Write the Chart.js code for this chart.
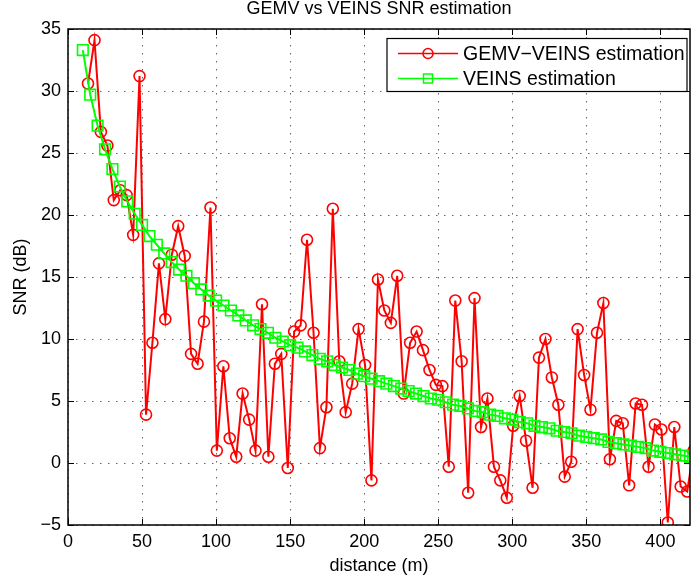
<!DOCTYPE html>
<html>
<head>
<meta charset="utf-8">
<script src="https://cdn.jsdelivr.net/npm/chart.js@4.4.1/dist/chart.umd.min.js"></script>
<style>
  html, body { margin: 0; padding: 0; background: #fff; }
  #wrap { width: 693px; height: 581px; }
</style>
</head>
<body>
<div id="wrap"><canvas id="snrChart" width="693" height="581"></canvas></div>
<script>
// distances (m) of the GEMV-VEINS samples (last one falls past the axis)
var gemvDist = [
  13.5, 17.9, 22.2, 26.6, 30.9, 35.3, 39.6, 44.0, 48.3, 52.7,
  57.0, 61.4, 65.7, 70.1, 74.4, 78.8, 83.1, 87.5, 91.8, 96.2,
  100.5, 104.9, 109.2, 113.6, 117.9, 122.3, 126.6, 131.0, 135.3, 139.7,
  144.0, 148.4, 152.7, 157.1, 161.4, 165.8, 170.1, 174.5, 178.8, 183.2,
  187.5, 191.9, 196.2, 200.6, 204.9, 209.3, 213.6, 218.0, 222.3, 226.7,
  231.0, 235.4, 239.7, 244.1, 248.4, 252.8, 257.1, 261.5, 265.8, 270.2,
  274.5, 278.9, 283.2, 287.6, 291.9, 296.3, 300.6, 305.0, 309.3, 313.7,
  318.0, 322.4, 326.7, 331.1, 335.4, 339.8, 344.1, 348.5, 352.8, 357.2,
  361.5, 365.9, 370.2, 374.6, 378.9, 383.3, 387.6, 392.0, 396.3, 400.7,
  405.0, 409.4, 413.7, 418.1, 422.4
];
var gemvSnr = [
  30.6, 34.1, 26.7, 25.6, 21.2, 22.0, 21.6, 18.4, 31.2, 3.9,
  9.7, 16.1, 11.6, 16.8, 19.1, 16.7, 8.8, 8.0, 11.4, 20.6,
  1.0, 7.8, 2.0, 0.5, 5.6, 3.5, 1.0, 12.8, 0.5, 8.0,
  8.8, -0.4, 10.6, 11.1, 18.0, 10.5, 1.2, 4.5, 20.5, 8.2,
  4.1, 6.4, 10.8, 7.9, -1.4, 14.8, 12.3, 11.3, 15.1, 5.6,
  9.7, 10.6, 9.1, 7.5, 6.3, 6.2, -0.3, 13.1, 8.2, -2.4,
  13.3, 2.9, 5.2, -0.3, -1.4, -2.8, 3.0, 5.4, 1.8, -2.0,
  8.5, 10.0, 6.9, 4.7, -1.1, 0.1, 10.8, 7.1, 4.3, 10.5,
  12.9, 0.3, 3.4, 3.2, -1.8, 4.8, 4.7, -0.3, 3.1, 2.7,
  -4.8, 2.9, -1.9, -2.3, 1.0
];

// VEINS estimation curve
var veinsDist = [
  10, 15, 20, 25, 30, 35, 40, 45, 50, 55, 60, 65, 70, 75, 80, 85, 90, 95,
  100, 105, 110, 115, 120, 125, 130, 135, 140, 145, 150, 155, 160, 165, 170, 175,
  180, 185, 190, 195, 200, 205, 210, 215, 220, 225, 230, 235, 240, 245, 250, 255,
  260, 265, 270, 275, 280, 285, 290, 295, 300, 305, 310, 315, 320, 325, 330, 335,
  340, 345, 350, 355, 360, 365, 370, 375, 380, 385, 390, 395, 400, 405, 410, 415, 420
];
var veinsSnr = [
  33.3, 29.7, 27.2, 25.3, 23.7, 22.3, 21.1, 20.1, 19.2, 18.3, 17.6, 16.9, 16.2, 15.6, 15.1, 14.5, 14.0, 13.5,
  13.1, 12.7, 12.3, 11.9, 11.5, 11.1, 10.8, 10.5, 10.1, 9.8, 9.5, 9.3, 9.0, 8.7, 8.4, 8.2,
  7.9, 7.7, 7.5, 7.2, 7.0, 6.8, 6.6, 6.4, 6.2, 6.0, 5.8, 5.6, 5.4, 5.2, 5.1, 4.9,
  4.7, 4.6, 4.4, 4.2, 4.1, 3.9, 3.8, 3.6, 3.5, 3.3, 3.2, 3.0, 2.9, 2.8, 2.6, 2.5,
  2.4, 2.2, 2.1, 2.0, 1.9, 1.7, 1.6, 1.5, 1.4, 1.3, 1.2, 1.0, 0.9, 0.8, 0.7, 0.6, 0.5
];

var xTicks = [0, 50, 100, 150, 200, 250, 300, 350, 400];
var yTicks = [-5, 0, 5, 10, 15, 20, 25, 30, 35];

var toPoints = function (xs, ys) {
  return xs.map(function (v, i) { return { x: v, y: ys[i] }; });
};

// matlab style box with inward ticks on all four sides
var axesBox = {
  id: "axesBox",
  afterDatasetsDraw: function (chart) {
    var ctx = chart.ctx;
    var a = chart.chartArea;
    var sx = chart.scales.x, sy = chart.scales.y;
    ctx.save();
    ctx.strokeStyle = "#000";
    ctx.lineWidth = 1;
    ctx.beginPath();
    sx.ticks.forEach(function (t) {
      var px = Math.round(sx.getPixelForValue(t.value)) + 0.5;
      ctx.moveTo(px, a.bottom); ctx.lineTo(px, a.bottom - 6);
      ctx.moveTo(px, a.top); ctx.lineTo(px, a.top + 6);
    });
    sy.ticks.forEach(function (t) {
      var py = Math.round(sy.getPixelForValue(t.value)) + 0.5;
      ctx.moveTo(a.left, py); ctx.lineTo(a.left + 6, py);
      ctx.moveTo(a.right, py); ctx.lineTo(a.right - 6, py);
    });
    ctx.stroke();
    ctx.lineWidth = 1.5;
    ctx.strokeRect(a.left, a.top, a.right - a.left, a.bottom - a.top);
    ctx.restore();
  }
};

// legend box in the upper right corner
var legendBox = {
  id: "legendBox",
  afterDraw: function (chart) {
    var ctx = chart.ctx;
    var a = chart.chartArea;
    var w = 300, h = 53;
    var bx = a.right - 3 - w, by = a.top + 9.5;
    ctx.save();
    ctx.fillStyle = "#fff";
    ctx.fillRect(bx, by, w, h);
    ctx.strokeStyle = "#000";
    ctx.lineWidth = 1.2;
    ctx.strokeRect(bx, by, w, h);
    chart.data.datasets.forEach(function (ds, i) {
      var ry = by + 15 + i * 25;
      ctx.strokeStyle = ds.borderColor;
      ctx.lineWidth = 1.5;
      ctx.beginPath();
      ctx.moveTo(bx + 11, ry); ctx.lineTo(bx + 71, ry);
      ctx.stroke();
      ctx.beginPath();
      if (ds.pointStyle === "circle") {
        ctx.arc(bx + 41, ry, 5, 0, Math.PI * 2);
      } else {
        ctx.rect(bx + 41 - 4.5, ry - 4.5, 9, 9);
      }
      ctx.stroke();
      ctx.fillStyle = "#000";
      ctx.font = "19.5px 'Liberation Sans', Arial, sans-serif";
      ctx.textBaseline = "middle";
      ctx.textAlign = "left";
      ctx.fillText(ds.label, bx + 76, ry + 1);
    });
    ctx.restore();
  }
};

Chart.defaults.font.family = "'Liberation Sans', Arial, Helvetica, sans-serif";
Chart.defaults.color = "#000";

var ctx = document.getElementById("snrChart").getContext("2d");
new Chart(ctx, {
  type: "line",
  data: {
    datasets: [
      {
        label: "GEMV\u2212VEINS estimation",
        data: toPoints(gemvDist, gemvSnr),
        borderColor: "#ff0000",
        borderWidth: 2,
        pointStyle: "circle",
        pointRadius: 5.5,
        pointBorderWidth: 1.6,
        pointBorderColor: "#ff0000",
        pointBackgroundColor: "rgba(0,0,0,0)",
        tension: 0,
        order: 1,
      },
      {
        label: "VEINS estimation",
        data: toPoints(veinsDist, veinsSnr),
        borderColor: "#00ff00",
        borderWidth: 2,
        pointStyle: "rect",
        pointRadius: 7.5,
        pointBorderWidth: 1.6,
        pointBorderColor: "#00ff00",
        pointBackgroundColor: "rgba(0,0,0,0)",
        tension: 0,
        order: 0,
      },
    ],
  },
  options: {
    responsive: false,
    animation: false,
    devicePixelRatio: 1,
    events: [],
    layout: { autoPadding: false, padding: { top: 0, right: 3, left: 0, bottom: 0 } },
    plugins: {
      legend: { display: false },
      tooltip: { enabled: false },
      title: {
        display: true,
        text: "GEMV vs VEINS SNR estimation",
        fullSize: false,
        color: "#000",
        font: { size: 18, weight: "normal", lineHeight: 1 },
        padding: { top: 0, bottom: 11 },
      },
    },
    scales: {
      x: {
        type: "linear",
        min: 0,
        max: 420,
        afterBuildTicks: function (s) { s.ticks = xTicks.map(function (v) { return { value: v }; }); },
        afterFit: function (s) { s.height = 56; s.paddingLeft = 0; s.paddingRight = 0; },
        grid: { color: "#666", lineWidth: 1, drawTicks: false },
        border: { display: false, dash: [1.5, 6.5] },
        ticks: { font: { size: 18 }, padding: 6, maxRotation: 0 },
        title: { display: true, text: "distance (m)", font: { size: 18 }, padding: { top: 4, bottom: 4 } },
      },
      y: {
        type: "linear",
        min: -5,
        max: 35,
        afterBuildTicks: function (s) { s.ticks = yTicks.map(function (v) { return { value: v }; }); },
        afterFit: function (s) { s.width = 68; },
        grid: { color: "#666", lineWidth: 1, drawTicks: false },
        border: { display: false, dash: [1.5, 6.5] },
        ticks: {
          font: { size: 18 },
          padding: 7,
          callback: function (v) { return v < 0 ? "\u2212" + Math.abs(v) : String(v); },
        },
        title: { display: true, text: "SNR (dB)", font: { size: 18 }, padding: { top: 10, bottom: 4 } },
      },
    },
  },
  plugins: [axesBox, legendBox],
});
</script>
</body>
</html>
